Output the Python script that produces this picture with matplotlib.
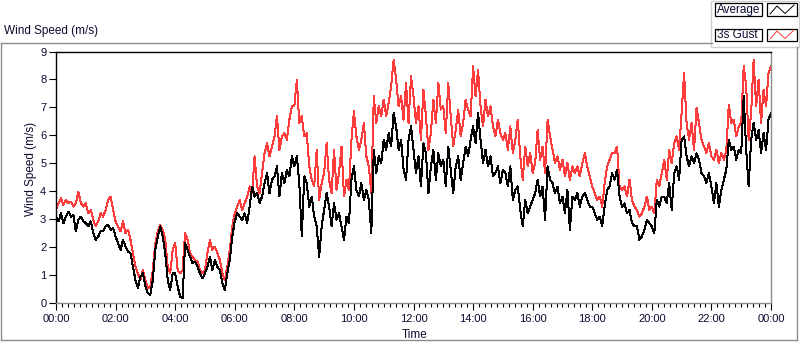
import matplotlib
matplotlib.use("Agg")
import matplotlib.pyplot as plt
import numpy as np
from matplotlib.patches import Rectangle
from matplotlib.lines import Line2D
from matplotlib.ticker import MultipleLocator

plt.rcParams['font.family'] = ['Liberation Sans', 'DejaVu Sans']

# ---- data: 5-minute samples, 00:00 .. 24:00 (hours) ----
average = [
    3.09, 2.92, 3.21, 2.86, 3.09, 3.27, 3.09, 3.15, 2.56, 2.98, 3.09, 2.92,
    2.86, 2.74, 2.92, 2.50, 2.26, 2.38, 2.56, 2.56, 2.74, 2.80, 2.62, 2.68,
    2.38, 2.14, 1.90, 2.26, 2.02, 1.84, 1.78, 1.30, 0.82, 0.53, 0.94, 1.06,
    0.59, 0.35, 0.29, 0.82, 1.90, 2.38, 2.74, 2.38, 1.78, 0.82, 0.47, 1.06,
    1.06, 0.59, 0.23, 0.17, 2.14, 1.90, 1.66, 1.42, 1.48, 1.30, 1.06, 0.88,
    1.06, 1.30, 1.66, 1.18, 1.54, 1.30, 1.18, 0.70, 0.47, 1.06, 1.54, 2.38,
    2.92, 3.21, 3.09, 2.98, 3.21, 2.86, 3.45, 4.17, 3.81, 3.93, 3.57, 3.81,
    4.29, 4.65, 3.93, 4.41, 4.53, 4.89, 3.81, 4.65, 4.29, 4.77, 4.53, 5.25,
    4.89, 5.25, 4.29, 2.38, 4.53, 4.29, 3.45, 3.81, 3.09, 2.74, 1.66, 2.74,
    3.33, 3.93, 3.45, 2.74, 3.57, 2.98, 3.21, 2.74, 2.26, 3.09, 2.86, 4.41,
    4.89, 4.05, 3.81, 4.29, 3.69, 4.05, 3.69, 2.50, 5.48, 4.65, 5.25, 5.01,
    5.84, 5.48, 6.08, 5.60, 6.80, 6.32, 5.48, 5.84, 4.77, 4.41, 5.84, 6.32,
    5.48, 4.65, 5.25, 4.17, 5.72, 5.36, 3.93, 4.89, 5.48, 4.41, 5.36, 4.89,
    5.13, 4.17, 5.60, 4.77, 3.93, 4.89, 5.25, 4.41, 5.01, 5.60, 5.25, 5.84,
    6.32, 5.72, 6.80, 5.84, 5.01, 5.48, 4.89, 5.25, 4.53, 4.65, 4.89, 4.29,
    4.77, 4.65, 4.17, 4.89, 3.69, 4.05, 4.17, 3.33, 2.74, 3.69, 3.21, 3.45,
    3.69, 3.93, 4.41, 3.81, 4.17, 2.98, 4.89, 4.41, 4.29, 3.93, 4.17, 3.57,
    3.81, 3.21, 4.05, 2.62, 3.81, 3.69, 3.93, 3.45, 3.81, 3.93, 3.69, 3.45,
    3.45, 3.21, 2.98, 3.09, 2.74, 3.45, 4.05, 4.17, 4.65, 4.41, 4.77, 3.81,
    3.45, 3.57, 3.21, 3.33, 2.86, 2.74, 2.74, 2.26, 2.38, 2.62, 2.98, 2.86,
    2.74, 2.50, 3.69, 3.45, 3.81, 3.81, 3.57, 4.29, 3.33, 4.65, 4.89, 4.41,
    5.84, 5.96, 5.25, 4.89, 5.25, 5.01, 5.36, 5.13, 4.65, 4.53, 4.29, 4.65,
    4.17, 3.57, 4.29, 3.45, 4.05, 4.41, 4.77, 5.84, 5.48, 5.60, 5.13, 5.48,
    5.37, 7.40, 5.48, 4.17, 5.84, 6.44, 5.84, 6.20, 5.37, 6.08, 5.48, 6.56, 6.80,
]

gust = [
    3.33, 3.57, 3.75, 3.51, 3.69, 3.57, 3.63, 3.45, 3.57, 3.99, 3.57, 3.45,
    3.57, 3.21, 3.33, 2.98, 2.74, 2.92, 3.21, 3.09, 3.33, 3.69, 3.81, 3.33,
    2.92, 2.74, 2.56, 2.92, 2.50, 2.62, 2.26, 1.78, 1.30, 1.06, 0.82, 1.18,
    0.82, 0.53, 0.59, 1.18, 2.14, 2.56, 2.80, 2.62, 2.26, 1.30, 1.06, 1.90,
    2.14, 1.18, 1.06, 1.18, 2.50, 2.26, 1.78, 1.66, 1.54, 1.48, 1.18, 1.06,
    1.18, 1.78, 2.26, 1.90, 2.02, 1.78, 1.54, 1.06, 0.82, 1.30, 1.90, 2.74,
    3.21, 3.45, 3.69, 3.33, 3.57, 3.81, 4.17, 3.93, 5.25, 4.17, 3.93, 4.65,
    5.36, 5.72, 5.25, 5.60, 5.96, 6.68, 5.48, 5.96, 6.08, 5.84, 6.56, 7.04,
    7.04, 7.99, 6.44, 6.68, 5.96, 6.08, 4.89, 4.41, 4.17, 5.48, 3.69, 4.29,
    4.65, 5.72, 4.41, 3.93, 5.48, 4.05, 4.65, 5.60, 3.81, 4.41, 4.05, 5.84,
    6.86, 5.96, 5.48, 5.84, 6.44, 5.25, 4.89, 3.93, 7.40, 6.44, 7.04, 6.68,
    7.28, 6.68, 7.16, 7.75, 8.71, 7.99, 7.04, 7.40, 6.56, 7.87, 6.44, 8.11,
    7.40, 6.44, 7.04, 5.84, 7.63, 6.68, 5.48, 6.08, 7.28, 6.44, 7.87, 6.92,
    7.04, 6.08, 7.87, 6.68, 5.60, 6.20, 6.92, 5.96, 6.44, 7.28, 6.92, 6.68,
    8.47, 7.40, 8.35, 7.04, 6.32, 7.28, 6.68, 7.04, 6.32, 5.96, 6.56, 6.08,
    5.84, 6.08, 5.48, 6.32, 5.36, 5.84, 6.56, 5.25, 4.41, 5.60, 4.89, 5.36,
    4.65, 5.01, 6.20, 5.13, 5.60, 4.65, 6.56, 5.96, 5.48, 5.01, 5.25, 4.77,
    5.13, 4.53, 5.01, 4.41, 4.89, 4.65, 4.89, 4.53, 5.01, 5.37, 4.89, 4.53,
    4.17, 3.93, 3.69, 3.81, 3.45, 4.29, 4.89, 5.13, 5.37, 5.37, 5.60, 4.17,
    4.05, 4.17, 3.81, 4.41, 3.69, 3.45, 3.33, 3.09, 3.21, 3.45, 3.81, 3.33,
    3.45, 3.21, 4.41, 4.17, 4.65, 5.13, 4.41, 5.48, 5.01, 5.72, 5.96, 5.48,
    6.80, 8.23, 6.44, 5.84, 6.44, 5.48, 6.98, 6.44, 5.84, 5.60, 5.37, 5.72,
    5.25, 5.13, 5.48, 5.01, 5.37, 5.13, 5.48, 7.10, 6.44, 6.56, 5.96, 6.32,
    6.44, 8.47, 7.75, 5.84, 6.80, 8.71, 7.04, 7.99, 6.44, 7.63, 7.04, 8.23, 8.47,
]

time_hours = np.arange(len(average)) / 12.0
tick_hours = list(range(0, 25, 2))
tick_labels = ["%02d:00" % (h % 24) for h in tick_hours]
series_names = ["Average", "3s Gust"]

W, H = 800, 342
fig = plt.figure(figsize=(W / 100, H / 100), dpi=100)

def fx(x):
    return x / W

def fy(y):
    return 1 - y / H

TXT = '#0a0a30'
RED = '#ff3c3c'

# outer gray frame
frame = [
    Line2D([fx(0.5), fx(712)], [fy(42.5), fy(42.5)]),
    Line2D([fx(0.8), fx(0.8)], [fy(42.5), fy(340)]),
    Line2D([fx(0.8), fx(797)], [fy(340), fy(340)]),
    Line2D([fx(797), fx(797)], [fy(47), fy(340)]),
]
for ln in frame:
    ln.set_color('#8c8c8c'); ln.set_linewidth(1.0); ln.set_transform(fig.transFigure)
    fig.add_artist(ln)

fig.text(fx(4), fy(31), "Wind Speed (m/s)", fontsize=8.5, color=TXT, ha='left', va='center')

ax = fig.add_axes([fx(56), fy(303), fx(771) - fx(56), fy(51.5) - fy(303)])
ax.plot(time_hours, gust, color=RED, lw=0.72, antialiased=False)
ax.plot(time_hours, average, color='black', lw=0.72, antialiased=False)
ax.set_xlim(0, 24)
ax.set_ylim(0, 9)
ax.yaxis.set_major_locator(MultipleLocator(1))
ax.set_xticks(tick_hours)
ax.set_xticklabels(tick_labels)
ax.xaxis.set_minor_locator(MultipleLocator(0.2))
ax.tick_params(axis='both', which='major', labelsize=8, colors='black', labelcolor=TXT,
               length=5, width=0.8, direction='out')
ax.tick_params(axis='x', which='minor', length=3, width=0.8, direction='out')
ax.tick_params(axis='x', which='major', pad=3)
ax.tick_params(axis='y', which='major', pad=2)
for s in ['left', 'top']:
    ax.spines[s].set_color('black'); ax.spines[s].set_linewidth(1.0)
for s in ['right', 'bottom']:
    ax.spines[s].set_color('#8c8c8c'); ax.spines[s].set_linewidth(1.0)

fig.text(fx(415), fy(335), "Time", fontsize=8.5, color=TXT, ha='center', va='center')
fig.text(fx(31), fy(169), "Wind Speed (m/s)", fontsize=8.5, color=TXT, ha='center',
         va='center', rotation=90)

# legend panel
def rect(x0, y0, x1, y1, fc, ec, lw=1.0):
    r = Rectangle((fx(x0), fy(y1)), fx(x1) - fx(x0), fy(y0) - fy(y1),
                  transform=fig.transFigure, facecolor=fc, edgecolor=ec, lw=lw)
    fig.add_artist(r)

rect(711, 0.5, 799, 47, 'white', '#cfcfcf')
for i, (name, col) in enumerate(zip(series_names, ['black', RED])):
    y0 = 3.5 + i * 25
    rect(715, y0, 762, y0 + 12.5, 'white', 'black', 0.9)
    fig.text(fx(717), fy(y0 + 6.5), name, fontsize=8.5, color=TXT, ha='left', va='center')
    rect(767, y0, 796.5, y0 + 12.5, 'white', 'black', 0.9)
    zx = [770, 777, 785, 794]
    zy = [y0 + 10.5, y0 + 2.5, y0 + 10, y0 + 1.5]
    fig.add_artist(Line2D([fx(v) for v in zx], [fy(v) for v in zy], color=col, lw=0.7,
                          transform=fig.transFigure))

fig.savefig("out.png", dpi=100)
